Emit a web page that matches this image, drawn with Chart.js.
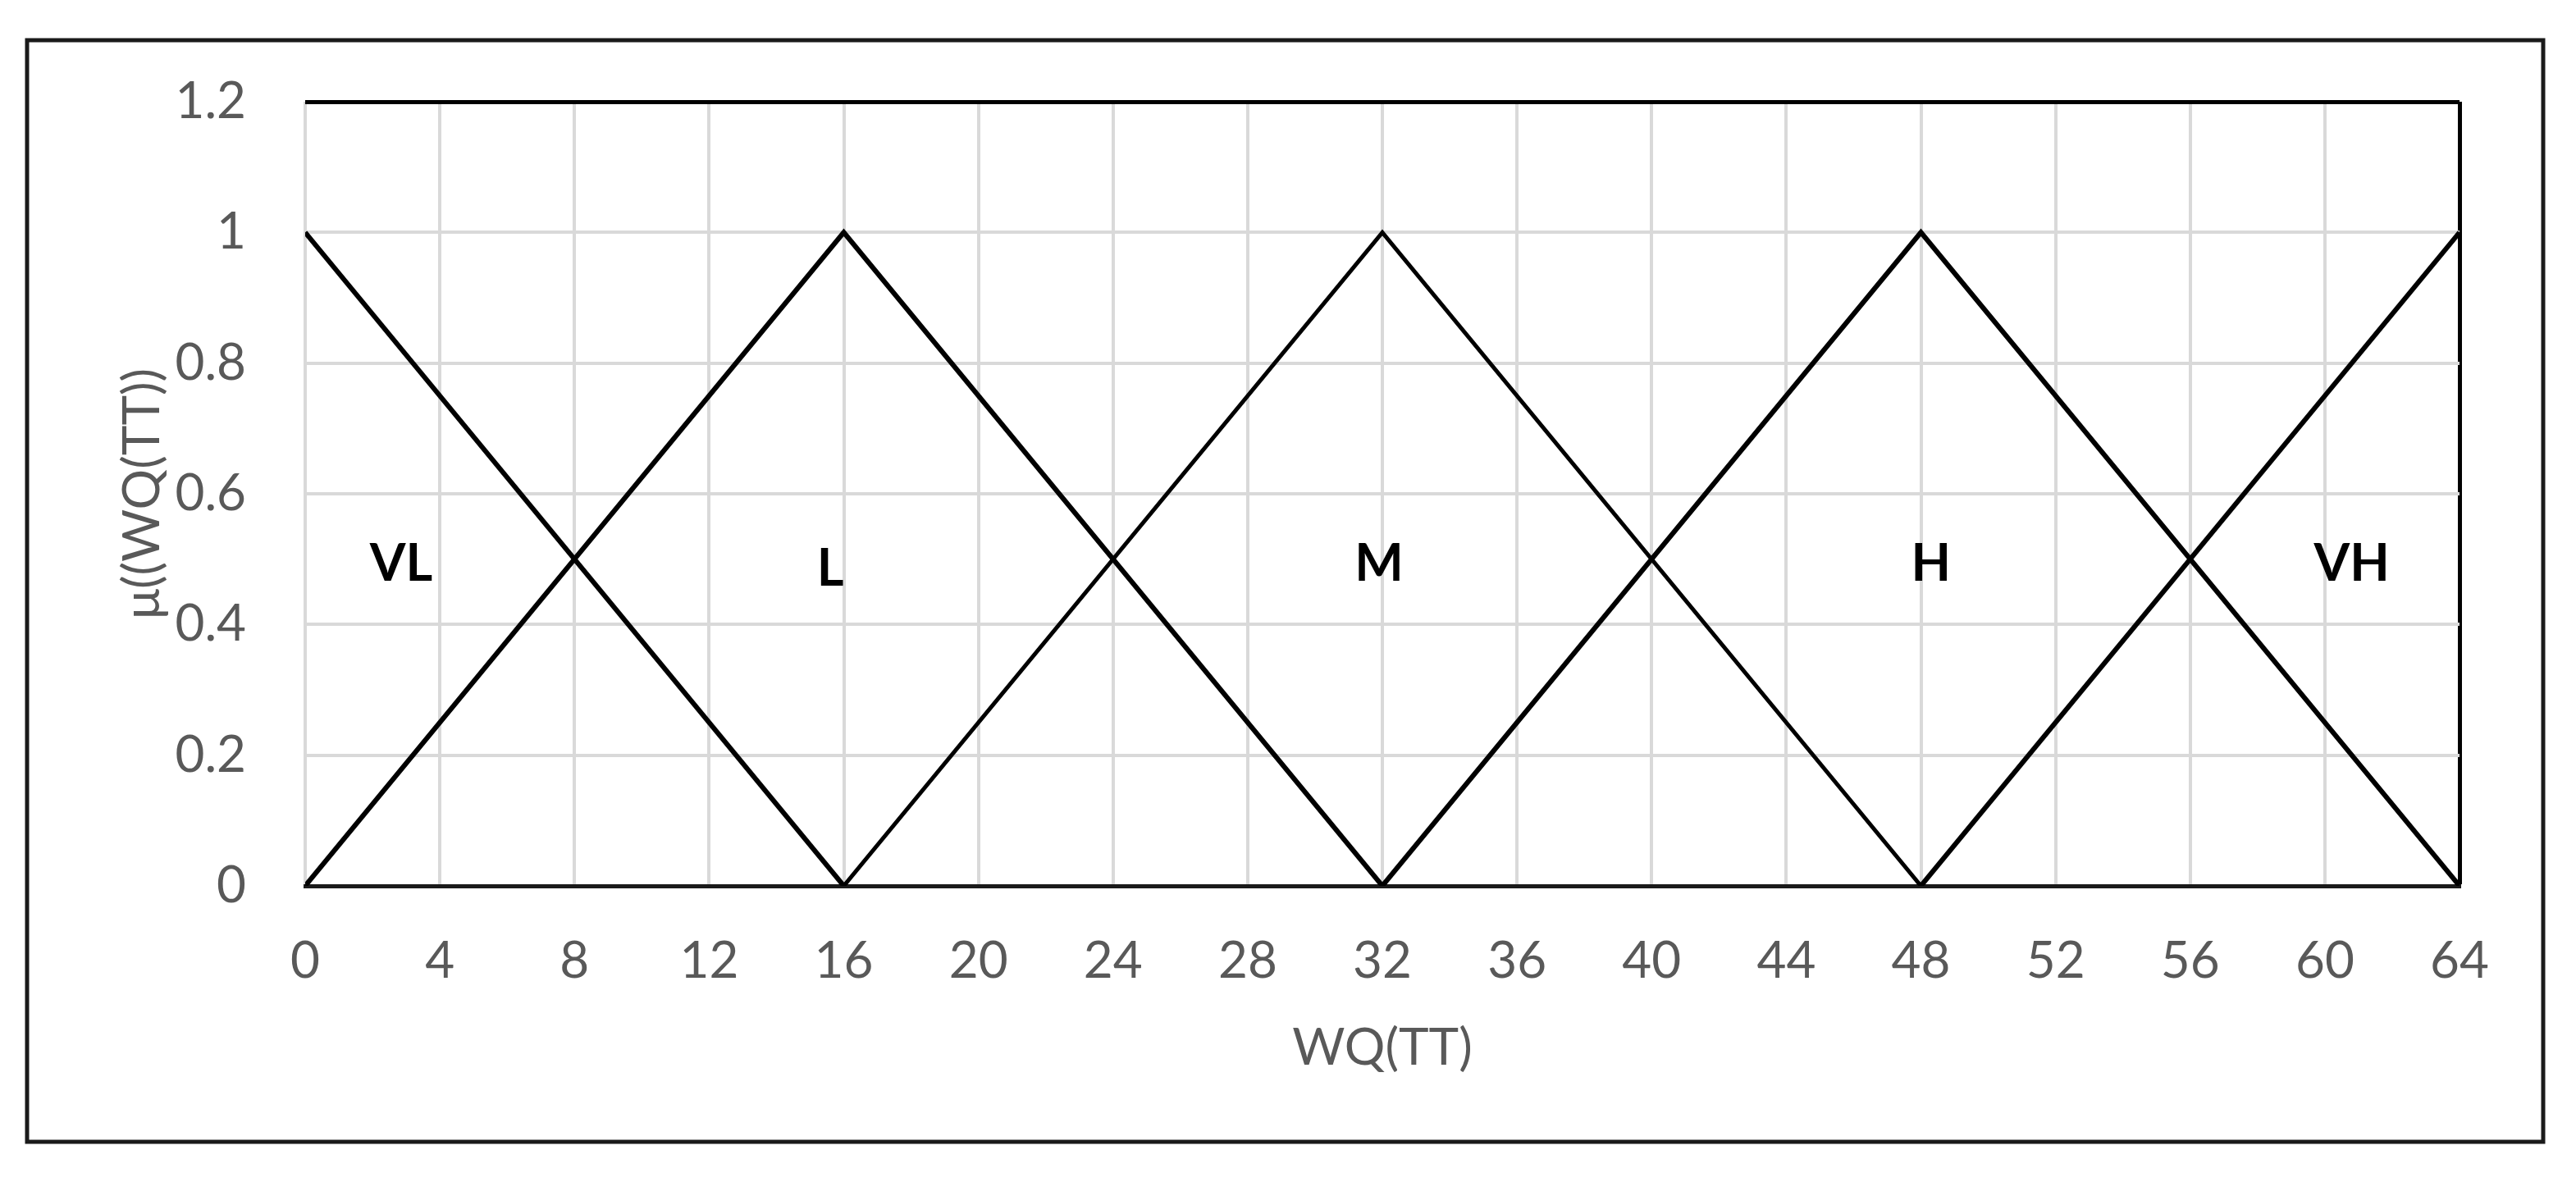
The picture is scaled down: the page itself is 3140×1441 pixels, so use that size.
<!DOCTYPE html>
<html>
<head>
<meta charset="utf-8">
<script src="https://cdn.jsdelivr.net/npm/chart.js@4"></script>
<style>
  html, body { margin: 0; padding: 0; background: #fff; }
  #wrap { width: 3140px; height: 1441px; position: relative; }
</style>
</head>
<body>
<div id="wrap"><canvas id="graph"></canvas></div>
<script>
// membership function breakpoints (x = WQ(TT), y = membership)
const vlX = [0, 16];
const vlY = [1, 0];
const lX = [0, 16, 32];
const lY = [0, 1, 0];
const mX = [16, 32, 48];
const mY = [0, 1, 0];
const hX = [32, 48, 64];
const hY = [0, 1, 0];
const vhX = [48, 64];
const vhY = [0, 1];

// set names and where they sit on the chart
const setNames = ['VL', 'L', 'M', 'H', 'VH'];
const nameX = [2.85, 15.6, 31.9, 48.3, 60.8];
const nameY = [0.492, 0.485, 0.492, 0.492, 0.492];

const xMin = 0, xMax = 64, xStep = 4;
const yMin = 0, yMax = 1.2, yStep = 0.2;
const yTickLabels = ['0', '0.2', '0.4', '0.6', '0.8', '1', '1.2'];

function toPoints(xs, ys) {
  return xs.map((x, i) => ({ x: x, y: ys[i] }));
}

const tickFont = { family: 'Lato, "Liberation Sans", sans-serif', size: 62 };
const gridGray = '#d9d9d9';

// outer frame round the whole figure
const framePlugin = {
  id: 'frame',
  beforeDraw(chart) {
    const ctx = chart.ctx;
    ctx.save();
    ctx.fillStyle = '#fff';
    ctx.fillRect(0, 0, chart.width, chart.height);
    ctx.strokeStyle = '#1a1a1a';
    ctx.lineWidth = 5;
    ctx.strokeRect(33, 49, 3067, 1343);
    ctx.restore();
  }
};

// VL, L, M, H, VH labels
const namePlugin = {
  id: 'setNames',
  afterDatasetsDraw(chart) {
    const ctx = chart.ctx;
    const xs = chart.scales.x, ys = chart.scales.y;
    ctx.save();
    ctx.font = 'bold 63px Lato, "Liberation Sans", sans-serif';
    ctx.fillStyle = '#000';
    ctx.textAlign = 'center';
    ctx.textBaseline = 'middle';
    setNames.forEach((name, i) => {
      ctx.fillText(name, xs.getPixelForValue(nameX[i]), ys.getPixelForValue(nameY[i]));
    });
    ctx.restore();
  }
};

const lineStyle = {
  borderColor: '#000',
  borderWidth: 6,
  pointRadius: 0,
  showLine: true,
  fill: false,
  tension: 0
};

const ctx = document.getElementById('graph').getContext('2d');
const graph = new Chart(ctx, {
  type: 'scatter',
  data: {
    datasets: [
      Object.assign({ label: 'VL', data: toPoints(vlX, vlY) }, lineStyle),
      Object.assign({ label: 'L', data: toPoints(lX, lY) }, lineStyle),
      Object.assign({ label: 'M', data: toPoints(mX, mY) }, lineStyle, { borderWidth: 5 }),
      Object.assign({ label: 'H', data: toPoints(hX, hY) }, lineStyle),
      Object.assign({ label: 'VH', data: toPoints(vhX, vhY) }, lineStyle)
    ]
  },
  options: {
    responsive: true,
    maintainAspectRatio: false,
    animation: false,
    layout: { padding: { left: 30, top: 124, right: 142, bottom: 0 } },
    plugins: {
      legend: { display: false },
      tooltip: { enabled: false }
    },
    scales: {
      x: {
        type: 'linear',
        min: xMin,
        max: xMax,
        afterFit(scale) { scale.height = 361; },
        ticks: { stepSize: xStep, color: '#595959', font: tickFont, padding: 55, maxRotation: 0 },
        grid: {
          drawTicks: false,
          color: c => (c.tick && c.tick.value === xMax) ? '#000' : gridGray,
          lineWidth: c => (c.tick && c.tick.value === xMax) ? 5 : 4
        },
        border: { display: true, color: '#1a1a1a', width: 5 },
        title: {
          display: true,
          text: 'WQ(TT)',
          color: '#595959',
          font: tickFont,
          padding: { top: 0, bottom: 126 }
        }
      },
      y: {
        type: 'linear',
        min: yMin,
        max: yMax,
        afterFit(scale) { scale.width = 342; },
        ticks: {
          stepSize: yStep,
          color: '#595959',
          font: tickFont,
          padding: 72,
          callback: (value, index) => yTickLabels[index]
        },
        grid: {
          drawTicks: false,
          color: c => (c.tick && Math.abs(c.tick.value - yMax) < 1e-6) ? '#000' : gridGray,
          lineWidth: c => (c.tick && Math.abs(c.tick.value - yMax) < 1e-6) ? 5 : 4
        },
        border: { display: false },
        title: {
          display: true,
          text: 'μ((WQ(TT))',
          color: '#595959',
          font: tickFont,
          padding: { top: 107, bottom: 0 }
        }
      }
    }
  },
  plugins: [framePlugin, namePlugin]
});
</script>
</body>
</html>
